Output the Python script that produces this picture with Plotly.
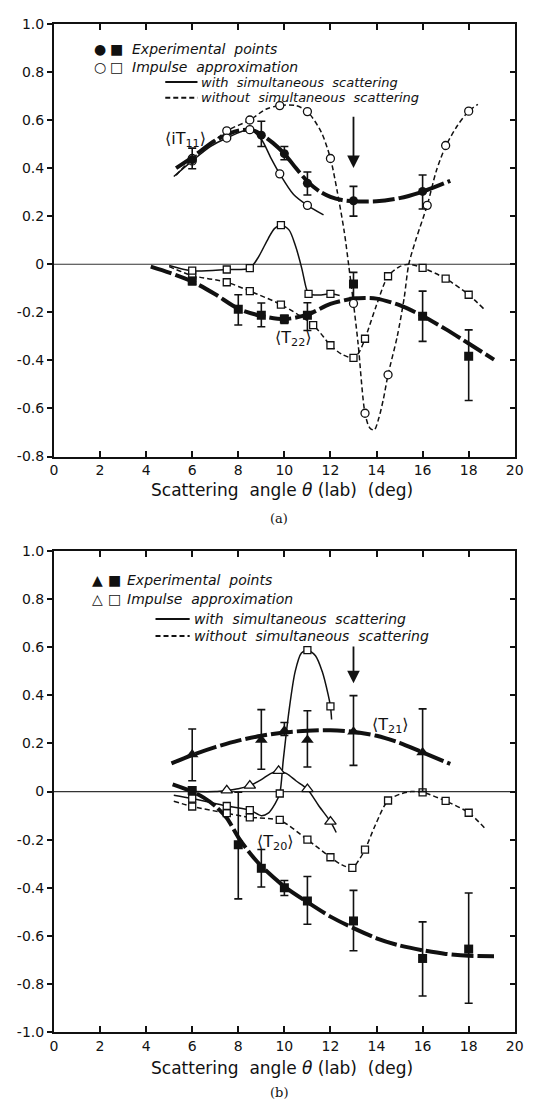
import plotly.graph_objects as go

W, H = 547, 1103

# ---------------- Panel (a) data ----------------
iT11_exp_x = [6, 9, 10, 11, 13, 16]
iT11_exp_y = [0.435, 0.537, 0.46, 0.337, 0.264, 0.303]
iT11_exp_up = [0.048, 0.058, 0.03, 0.047, 0.06, 0.068]
iT11_exp_dn = [0.038, 0.047, 0.025, 0.049, 0.064, 0.073]

iT11_fit_x = [5.3, 6, 7, 8, 8.6, 9, 9.5, 10, 10.5, 11, 11.5, 12, 12.5, 13, 14, 15, 16, 17.2]
iT11_fit_y = [0.40, 0.445, 0.515, 0.556, 0.558, 0.54, 0.505, 0.46, 0.40, 0.345, 0.305, 0.28, 0.267, 0.262, 0.262, 0.275, 0.302, 0.347]

iT11_with_x = [5.2, 6, 6.8, 7.5, 8.5, 9.0, 9.4, 9.8, 10.4, 11.0, 11.7]
iT11_with_y = [0.365, 0.43, 0.49, 0.525, 0.56, 0.52, 0.445, 0.376, 0.29, 0.245, 0.205]
iT11_with_pts_x = [6, 7.5, 8.5, 9.8, 11.0]
iT11_with_pts_y = [0.43, 0.525, 0.56, 0.376, 0.245]

iT11_wo_x = [5.3, 6, 6.8, 7.5, 8.5, 9.2, 9.8, 10.5, 11.0, 11.6, 12.0, 12.3, 12.6, 12.8, 13.0, 13.2, 13.5,
             13.7, 13.9, 14.1, 14.3, 14.5, 14.9, 15.2, 15.4, 15.7, 16.2, 16.6, 17.0, 17.5, 18.0, 18.4]
iT11_wo_y = [0.37, 0.44, 0.50, 0.555, 0.60, 0.645, 0.66, 0.66, 0.635, 0.55, 0.44, 0.30, 0.135, -0.01, -0.163,
             -0.33, -0.62, -0.68, -0.69, -0.64, -0.56, -0.46, -0.30, -0.14, 0.0, 0.10, 0.245, 0.39, 0.49,
             0.575, 0.637, 0.665]
iT11_wo_pts_x = [6, 7.5, 8.5, 9.8, 11.0, 12.0, 13.0, 13.5, 14.5, 16.2, 17.0, 18.0]
iT11_wo_pts_y = [0.44, 0.555, 0.60, 0.66, 0.635, 0.44, -0.163, -0.62, -0.46, 0.245, 0.494, 0.637]

T22_exp_x = [6, 8, 9, 10, 11, 13, 16, 18]
T22_exp_y = [-0.07, -0.187, -0.212, -0.228, -0.212, -0.082, -0.216, -0.383]
T22_exp_up = [0.015, 0.06, 0.051, 0.016, 0.052, 0.048, 0.104, 0.11]
T22_exp_dn = [0.015, 0.066, 0.048, 0.018, 0.064, 0.057, 0.105, 0.184]

T22_fit_x = [4.2, 5, 6, 7, 8, 9, 10, 11, 12, 13, 13.5, 14, 15, 16, 17, 18, 19.1]
T22_fit_y = [-0.01, -0.035, -0.072, -0.125, -0.185, -0.215, -0.228, -0.21, -0.165, -0.143, -0.14, -0.143,
             -0.17, -0.215, -0.27, -0.33, -0.397]

T22_with_x = [5.0, 6, 7.5, 8.5, 8.85, 9.3, 9.57, 9.85, 10.2, 10.47, 10.75, 10.95, 11.05, 11.5, 12.0, 12.4]
T22_with_y = [-0.005, -0.027, -0.022, -0.016, 0.026, 0.107, 0.148, 0.163, 0.143, 0.08, -0.015, -0.1,
              -0.123, -0.128, -0.123, -0.13]
T22_with_pts_x = [6, 7.5, 8.5, 9.85, 11.05, 12.0]
T22_with_pts_y = [-0.027, -0.022, -0.016, 0.163, -0.123, -0.123]

T22_wo_x = [5.0, 6, 7.5, 8.5, 9.85, 11.25, 12.0, 12.5, 13.0, 13.25, 13.5, 14.0, 14.5, 15.0, 15.4, 16.0,
            17.0, 18.0, 18.7]
T22_wo_y = [-0.01, -0.047, -0.075, -0.112, -0.168, -0.253, -0.337, -0.375, -0.39, -0.365, -0.31, -0.17,
            -0.05, -0.01, 0.0, -0.015, -0.06, -0.127, -0.19]
T22_wo_pts_x = [6, 7.5, 8.5, 9.85, 11.25, 12.0, 13.0, 13.5, 14.5, 16.0, 17.0, 18.0]
T22_wo_pts_y = [-0.047, -0.075, -0.112, -0.168, -0.253, -0.337, -0.39, -0.31, -0.05, -0.015, -0.06, -0.127]

# ---------------- Panel (b) data ----------------
T21_exp_x = [6, 9, 10, 11, 13, 16]
T21_exp_y = [0.154, 0.215, 0.253, 0.215, 0.249, 0.163]
T21_exp_up = [0.106, 0.126, 0.034, 0.121, 0.15, 0.181]
T21_exp_dn = [0.109, 0.122, 0.02, 0.113, 0.14, 0.163]

T21_fit_x = [5.1, 6, 7, 8, 9, 10, 11, 12, 13, 14, 15, 16, 17.2]
T21_fit_y = [0.117, 0.152, 0.185, 0.212, 0.232, 0.246, 0.253, 0.255, 0.249, 0.232, 0.203, 0.163, 0.115]

T21_with_x = [6.0, 7.0, 7.5, 8.0, 8.5, 9.0, 9.4, 9.75, 10.1, 10.5, 11.0, 11.5, 12.0, 12.25]
T21_with_y = [0.0, 0.0, 0.005, 0.012, 0.025, 0.05, 0.075, 0.086, 0.075, 0.045, 0.01, -0.06, -0.125, -0.17]
T21_with_pts_x = [7.5, 8.5, 9.75, 11.0, 12.0]
T21_with_pts_y = [0.005, 0.025, 0.086, 0.01, -0.125]

T20_exp_x = [6, 8, 9, 10, 11, 13, 16, 18]
T20_exp_y = [0.005, -0.221, -0.319, -0.40, -0.455, -0.538, -0.694, -0.655]
T20_exp_up = [0.0, 0.218, 0.078, 0.03, 0.102, 0.127, 0.152, 0.233]
T20_exp_dn = [0.0, 0.225, 0.078, 0.032, 0.097, 0.124, 0.156, 0.225]

T20_fit_x = [5.15, 6, 6.5, 7, 7.5, 8, 8.5, 9, 10, 11, 12, 13, 14, 15, 16, 17, 18, 19.1]
T20_fit_y = [0.03, 0.0, -0.025, -0.06, -0.11, -0.19, -0.255, -0.31, -0.395, -0.46, -0.52, -0.568, -0.61,
             -0.64, -0.66, -0.675, -0.683, -0.685]

T20_with_x = [5.2, 6, 7.5, 8.5, 9.0, 9.3, 9.6, 9.8, 9.95, 10.2, 10.47, 10.74, 11.0, 11.35, 11.64, 11.9, 12.0, 12.05]
T20_with_y = [-0.015, -0.029, -0.06, -0.077, -0.1, -0.09, -0.05, -0.008, 0.129, 0.335, 0.5, 0.576, 0.588,
              0.565, 0.5, 0.403, 0.354, 0.30]
T20_with_pts_x = [6, 7.5, 8.5, 9.8, 11.0, 12.0]
T20_with_pts_y = [-0.029, -0.06, -0.077, -0.008, 0.588, 0.354]

T20_wo_x = [5.2, 6, 7.5, 8.5, 9.8, 11.0, 12.0, 12.5, 12.95, 13.2, 13.5, 13.95, 14.5, 15.1, 15.5, 16.0,
            17.0, 18.0, 18.7]
T20_wo_y = [-0.04, -0.062, -0.09, -0.107, -0.12, -0.2, -0.273, -0.305, -0.317, -0.29, -0.241, -0.139,
            -0.037, -0.008, 0.0, -0.003, -0.039, -0.088, -0.152]
T20_wo_pts_x = [6, 7.5, 8.5, 9.8, 11.0, 12.0, 12.95, 13.5, 14.5, 16.0, 17.0, 18.0]
T20_wo_pts_y = [-0.062, -0.09, -0.107, -0.118, -0.2, -0.273, -0.317, -0.241, -0.037, -0.003, -0.039, -0.088]

x_ticks = [0, 2, 4, 6, 8, 10, 12, 14, 16, 18, 20]
x_tick_text = ["0", "2", "4", "6", "8", "10", "12", "14", "16", "18", "20"]
ya_ticks = [1.0, 0.8, 0.6, 0.4, 0.2, 0, -0.2, -0.4, -0.6, -0.8]
ya_tick_text = ["1.0", "0.8", "0.6", "0.4", "0.2", "0", "-0.2", "-0.4", "-0.6", "-0.8"]
yb_ticks = [1.0, 0.8, 0.6, 0.4, 0.2, 0, -0.2, -0.4, -0.6, -0.8, -1.0]
yb_tick_text = ["1.0", "0.8", "0.6", "0.4", "0.2", "0", "-0.2", "-0.4", "-0.6", "-0.8", "-1.0"]

arrow_x = 13
arrow_a = (0.62, 0.40)
arrow_b = (0.61, 0.45)

# ---------------- Figure ----------------
FONT = "DejaVu Sans"
INK = "#111111"
fig = go.Figure()


def line(x, y, ax, kind):
    if kind == "fit":
        ln = dict(color=INK, width=4, dash="22px,4px", shape="spline", smoothing=0.8)
    elif kind == "with":
        ln = dict(color=INK, width=1.5, shape="spline", smoothing=0.8)
    else:
        ln = dict(color=INK, width=1.5, dash="5px,3px", shape="spline", smoothing=0.8)
    fig.add_trace(go.Scatter(x=x, y=y, mode="lines", line=ln, xaxis="x" + ax, yaxis="y" + ax,
                             hoverinfo="skip", showlegend=False))


def open_pts(x, y, ax, sym, size):
    fig.add_trace(go.Scatter(x=x, y=y, mode="markers", xaxis="x" + ax, yaxis="y" + ax,
                             marker=dict(symbol=sym, size=size, color="white",
                                         line=dict(color=INK, width=1.3)),
                             showlegend=False))


def exp_pts(x, y, up, dn, ax, sym, size):
    fig.add_trace(go.Scatter(x=x, y=y, mode="markers", xaxis="x" + ax, yaxis="y" + ax,
                             marker=dict(symbol=sym, size=size, color=INK),
                             error_y=dict(type="data", array=up, arrayminus=dn, symmetric=False,
                                          color=INK, thickness=1.6, width=4),
                             showlegend=False))


# panel (a)
line(iT11_wo_x, iT11_wo_y, "", "wo")
line(T22_wo_x, T22_wo_y, "", "wo")
line(iT11_with_x, iT11_with_y, "", "with")
line(T22_with_x, T22_with_y, "", "with")
line(iT11_fit_x, iT11_fit_y, "", "fit")
line(T22_fit_x, T22_fit_y, "", "fit")
open_pts(iT11_wo_pts_x, iT11_wo_pts_y, "", "circle", 8)
open_pts(iT11_with_pts_x, iT11_with_pts_y, "", "circle", 8)
open_pts(T22_wo_pts_x, T22_wo_pts_y, "", "square", 7)
open_pts(T22_with_pts_x, T22_with_pts_y, "", "square", 7)
exp_pts(iT11_exp_x, iT11_exp_y, iT11_exp_up, iT11_exp_dn, "", "circle", 9)
exp_pts(T22_exp_x, T22_exp_y, T22_exp_up, T22_exp_dn, "", "square", 9)

# panel (b)
line(T20_wo_x, T20_wo_y, "2", "wo")
line(T20_with_x, T20_with_y, "2", "with")
line(T21_with_x, T21_with_y, "2", "with")
line(T21_fit_x, T21_fit_y, "2", "fit")
line(T20_fit_x, T20_fit_y, "2", "fit")
open_pts(T20_wo_pts_x, T20_wo_pts_y, "2", "square", 7)
open_pts(T20_with_pts_x, T20_with_pts_y, "2", "square", 7)
open_pts(T21_with_pts_x, T21_with_pts_y, "2", "triangle-up", 10)
exp_pts(T21_exp_x, T21_exp_y, T21_exp_up, T21_exp_dn, "2", "triangle-up", 11)
exp_pts(T20_exp_x, T20_exp_y, T20_exp_up, T20_exp_dn, "2", "square", 9)


def px(x):
    return x / W


def py(y):
    return 1 - y / H


xdom = [px(43), px(515)]
dom_a = [py(447), py(8)]
dom_b = [py(1031), py(543)]

tickfont = dict(family=FONT, size=14, color=INK)
xcommon = dict(range=[0, 20], tickvals=x_ticks, ticktext=x_tick_text, ticks="inside", ticklen=6,
               tickwidth=1.5, tickcolor=INK, showline=True, linewidth=2, linecolor=INK, mirror="ticks",
               showgrid=False, zeroline=False, tickfont=tickfont, domain=xdom)
ycommon = dict(ticks="outside", ticklen=5, tickwidth=1.5, tickcolor=INK, showline=True, linewidth=2,
               linecolor=INK, mirror=True, showgrid=False, zeroline=False, tickfont=tickfont)

fig.update_layout(
    width=W, height=H, margin=dict(l=0, r=0, t=0, b=0),
    paper_bgcolor="white", plot_bgcolor="white", showlegend=False,
    xaxis=dict(anchor="y", **xcommon),
    yaxis=dict(anchor="x", range=[-0.8, 1.0], tickvals=ya_ticks, ticktext=ya_tick_text, domain=dom_a, **ycommon),
    xaxis2=dict(anchor="y2", **xcommon),
    yaxis2=dict(anchor="x2", range=[-1.0, 1.0], tickvals=yb_ticks, ticktext=yb_tick_text, domain=dom_b, **ycommon),
    yaxis3=dict(overlaying="y", side="right", anchor="x", range=[-0.8, 1.0], tickvals=ya_ticks,
                ticks="inside", ticklen=5, tickwidth=1.5, tickcolor=INK, showticklabels=False,
                showline=False, showgrid=False, zeroline=False),
    yaxis4=dict(overlaying="y2", side="right", anchor="x2", range=[-1.0, 1.0], tickvals=yb_ticks,
                ticks="inside", ticklen=5, tickwidth=1.5, tickcolor=INK, showticklabels=False,
                showline=False, showgrid=False, zeroline=False),
)

fig.add_trace(go.Scatter(x=[None], y=[None], xaxis="x", yaxis="y3", showlegend=False))
fig.add_trace(go.Scatter(x=[None], y=[None], xaxis="x2", yaxis="y4", showlegend=False))

shapes = []
for yref, xr in (("y", "x domain"), ("y2", "x2 domain")):
    shapes.append(dict(type="line", xref=xr, yref=yref, x0=0, x1=1, y0=0, y1=0,
                       line=dict(color="#333333", width=1.1), layer="below"))

ann = []


def text(x, y, s, size=14, anchor="left", italic=False, family=FONT):
    ann.append(dict(x=px(x), y=py(y), xref="paper", yref="paper", text=("<i>%s</i>" % s) if italic else s,
                    showarrow=False, xanchor=anchor, yanchor="middle", borderpad=0,
                    font=dict(family=family, size=size, color=INK)))


def legend(y0, fs, es, tx, sym1, sym2):
    text(fs[0], y0, sym1[0], size=14, anchor="center")
    text(fs[1], y0, sym1[1], size=14, anchor="center")
    text(tx, y0, "Experimental  points", italic=True)
    text(fs[0], es, sym2[0], size=14, anchor="center")
    text(fs[1], es, sym2[1], size=14, anchor="center")
    text(tx, es, "Impulse  approximation", italic=True)


# legend panel (a)
legend(33, (90, 107), 52, 122, ("●", "■"), ("○", "□"))
shapes.append(dict(type="line", xref="paper", yref="paper", x0=px(157), x1=px(190), y0=py(67), y1=py(67),
                   line=dict(color=INK, width=2)))
text(193, 67, "with  simultaneous  scattering", size=13, italic=True)
shapes.append(dict(type="line", xref="paper", yref="paper", x0=px(157), x1=px(190), y0=py(83), y1=py(83),
                   line=dict(color=INK, width=2, dash="5px,3px")))
text(193, 83, "without  simultaneous  scattering", size=13, italic=True)

# legend panel (b)
legend(572, (88, 105), 592, 117, ("▲", "■"), ("△", "□"))
shapes.append(dict(type="line", xref="paper", yref="paper", x0=px(147), x1=px(182), y0=py(612), y1=py(612),
                   line=dict(color=INK, width=2)))
text(185, 612, "with  simultaneous  scattering", italic=True)
shapes.append(dict(type="line", xref="paper", yref="paper", x0=px(147), x1=px(182), y0=py(629), y1=py(629),
                   line=dict(color=INK, width=2, dash="5px,3px")))
text(185, 629, "without  simultaneous  scattering", italic=True)

# curve labels
for xr, yr, xv, yv, s in (("x", "y", 5.7, 0.52, "⟨iT<sub>11</sub>⟩"),
                          ("x", "y", 10.4, -0.31, "⟨T<sub>22</sub>⟩"),
                          ("x2", "y2", 14.6, 0.276, "⟨T<sub>21</sub>⟩"),
                          ("x2", "y2", 9.6, -0.211, "⟨T<sub>20</sub>⟩")):
    ann.append(dict(x=xv, y=yv, xref=xr, yref=yr, text=s, showarrow=False,
                    font=dict(family=FONT, size=16, color=INK)))

# arrows
ann.append(dict(x=arrow_x, y=arrow_a[1], ax=arrow_x, ay=arrow_a[0], xref="x", yref="y", axref="x", ayref="y",
                text="", showarrow=True, arrowhead=2, arrowsize=1.4, arrowwidth=1.8, arrowcolor=INK))
ann.append(dict(x=arrow_x, y=arrow_b[1], ax=arrow_x, ay=arrow_b[0], xref="x2", yref="y2", axref="x2", ayref="y2",
                text="", showarrow=True, arrowhead=2, arrowsize=1.4, arrowwidth=1.8, arrowcolor=INK))

# axis titles and panel labels
text(277, 481, "Scattering  angle <i>θ</i> (lab)  (deg)", size=17, anchor="center")
text(274, 510, "(a)", size=13, anchor="center", family="DejaVu Serif")
text(277, 1067, "Scattering  angle <i>θ</i> (lab)  (deg)", size=17, anchor="center")
text(274, 1092, "(b)", size=13, anchor="center", family="DejaVu Serif")

fig.update_layout(shapes=shapes, annotations=ann)
fig.write_html("out.html")
